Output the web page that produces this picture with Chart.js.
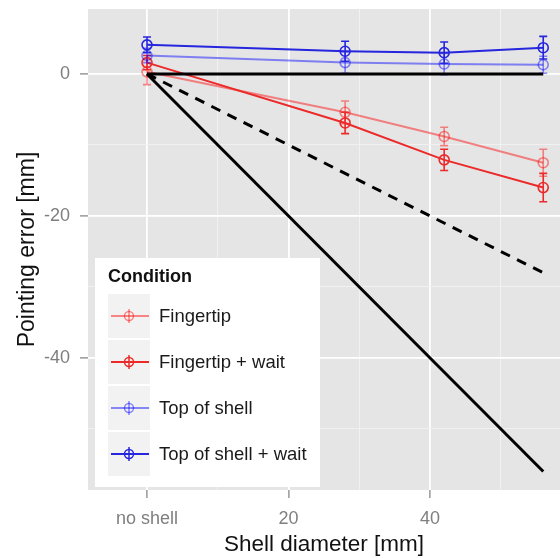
<!DOCTYPE html>
<html>
<head>
<meta charset="utf-8">
<script src="https://cdn.jsdelivr.net/npm/chart.js@4.4.1/dist/chart.umd.min.js"></script>
<style>
    html, body { margin: 0; padding: 0; background: #fff; }
    canvas { display: block; }
</style>
</head>
<body>
<canvas id="pointing-chart" width="560" height="558"></canvas>
<script>
// Data
const diameters = [0, 28, 42, 56];
const xTickValues = [0, 20, 40];
const xTickLabels = ['no shell', '20', '40'];
const xMinorValues = [10, 30, 50];
const yTickValues = [0, -20, -40];
const yTickLabels = ['0', '-20', '-40'];
const yMinorValues = [-10, -30, -50];

const conditions = ['Fingertip', 'Fingertip + wait', 'Top of shell', 'Top of shell + wait'];
const fingertip = [0.3, -5.4, -8.8, -12.5];
const fingertipErr = [1.8, 1.6, 1.3, 1.9];
const fingertipWait = [1.6, -6.9, -12.1, -16.0];
const fingertipWaitErr = [1.0, 1.5, 1.5, 2.0];
const topOfShell = [2.6, 1.6, 1.4, 1.3];
const topOfShellErr = [1.0, 1.5, 1.5, 1.2];
const topOfShellWait = [4.1, 3.2, 3.0, 3.7];
const topOfShellWaitErr = [1.1, 1.4, 1.5, 1.6];

// reference lines: no error, half and full shell radius
const refX = [0, 56];
const refFlat = [0, 0];
const refHalf = [0, -28];
const refFull = [0, -56];

// Styles
const FONT = '"Liberation Sans", Arial, Helvetica, sans-serif';
const conditionColors = ['rgba(255, 0, 0, 0.45)', '#EC2A2A', 'rgba(0, 0, 255, 0.45)', '#2626DE'];
const conditionValues = [fingertip, fingertipWait, topOfShell, topOfShellWait];
const conditionErrors = [fingertipErr, fingertipWaitErr, topOfShellErr, topOfShellWaitErr];

function conditionDataset(i) {
    const color = conditionColors[i];
    return {
        label: conditions[i],
        data: diameters.map((x, j) => ({ x: x, y: conditionValues[i][j] })),
        errors: conditionErrors[i],
        borderColor: color,
        borderWidth: 2,
        pointRadius: 5,
        pointBorderWidth: 1.6,
        pointBorderColor: color,
        pointBackgroundColor: 'rgba(0, 0, 0, 0)',
        tension: 0
    };
}

function refDataset(values, dash) {
    return {
        label: '',
        data: refX.map((x, j) => ({ x: x, y: values[j] })),
        borderColor: '#000',
        borderWidth: 3,
        borderDash: dash,
        pointRadius: 0,
        tension: 0
    };
}

// lower index is drawn on top
const datasets = [
    refDataset(refFlat, []),
    refDataset(refHalf, [10, 8]),
    refDataset(refFull, []),
    conditionDataset(3),
    conditionDataset(2),
    conditionDataset(1),
    conditionDataset(0)
];

const panelPlugin = {
    id: 'panel',
    beforeDraw(chart) {
        const { ctx, chartArea } = chart;
        ctx.save();
        ctx.fillStyle = '#fff';
        ctx.fillRect(0, 0, chart.width, chart.height);
        ctx.fillStyle = '#E5E5E5';
        ctx.fillRect(chartArea.left, chartArea.top, chartArea.right - chartArea.left, chartArea.bottom - chartArea.top);
        ctx.restore();
    }
};

const errorBarPlugin = {
    id: 'errorBars',
    afterDatasetDraw(chart, args) {
        const ds = chart.data.datasets[args.index];
        if (!ds.errors) return;
        const { ctx, chartArea } = chart;
        const yScale = chart.scales.y;
        ctx.save();
        ctx.beginPath();
        ctx.rect(chartArea.left, chartArea.top, chartArea.right - chartArea.left, chartArea.bottom - chartArea.top);
        ctx.clip();
        ctx.strokeStyle = ds.borderColor;
        ctx.lineWidth = 1.6;
        args.meta.data.forEach((pt, j) => {
            const v = ds.data[j].y;
            const top = yScale.getPixelForValue(v + ds.errors[j]);
            const bot = yScale.getPixelForValue(v - ds.errors[j]);
            ctx.beginPath();
            ctx.moveTo(pt.x, top);
            ctx.lineTo(pt.x, bot);
            ctx.moveTo(pt.x - 4, top);
            ctx.lineTo(pt.x + 4, top);
            ctx.moveTo(pt.x - 4, bot);
            ctx.lineTo(pt.x + 4, bot);
            ctx.stroke();
        });
        ctx.restore();
    }
};

const legendPlugin = {
    id: 'conditionLegend',
    afterDraw(chart) {
        const { ctx, chartArea } = chart;
        const boxW = 225, boxH = 229;
        const boxX = chartArea.left + 7;
        const boxY = chartArea.bottom - 3 - boxH;
        ctx.save();
        ctx.fillStyle = '#fff';
        ctx.fillRect(boxX, boxY, boxW, boxH);

        ctx.fillStyle = '#111';
        ctx.font = 'bold 18px ' + FONT;
        ctx.textBaseline = 'middle';
        ctx.textAlign = 'left';
        ctx.fillText('Condition', boxX + 13, boxY + 19);

        const keyX = boxX + 13, keyW = 42, rowH = 46;
        const firstTop = boxY + 35;
        conditions.forEach((name, i) => {
            const top = firstTop + i * rowH;
            const cy = top + rowH / 2;
            const cx = keyX + keyW / 2;
            ctx.fillStyle = '#F2F2F2';
            ctx.fillRect(keyX, top + 1, keyW, rowH - 2);

            ctx.strokeStyle = conditionColors[i];
            ctx.lineWidth = 2;
            ctx.beginPath();
            ctx.moveTo(keyX + 3, cy);
            ctx.lineTo(keyX + keyW - 1, cy);
            ctx.stroke();
            ctx.lineWidth = 1.5;
            ctx.beginPath();
            ctx.arc(cx, cy, 4.5, 0, Math.PI * 2);
            ctx.stroke();
            ctx.beginPath();
            ctx.moveTo(cx, cy - 7);
            ctx.lineTo(cx, cy + 7);
            ctx.stroke();

            ctx.fillStyle = '#1a1a1a';
            ctx.font = '18.5px ' + FONT;
            ctx.fillText(name, boxX + 64, cy + 1);
        });
        ctx.restore();
    }
};

function gridOptions(majors) {
    return {
        color: (c) => (c.tick && majors.includes(c.tick.value)) ? '#FFFFFF' : '#F2F2F2',
        lineWidth: (c) => (c.tick && majors.includes(c.tick.value)) ? 1.8 : 0.9,
        tickColor: (c) => (c.tick && majors.includes(c.tick.value)) ? '#7F7F7F' : 'rgba(0, 0, 0, 0)',
        tickWidth: 1.2,
        tickLength: 8,
        drawTicks: true
    };
}

function noPadding(s) {
    s.paddingTop = 0;
    s.paddingBottom = 0;
    s.paddingLeft = 0;
    s.paddingRight = 0;
}

const ctx = document.getElementById('pointing-chart').getContext('2d');
const pointingChart = new Chart(ctx, {
    type: 'line',
    data: { datasets: datasets },
    plugins: [panelPlugin, errorBarPlugin, legendPlugin],
    options: {
        responsive: false,
        animation: false,
        devicePixelRatio: 1,
        layout: { autoPadding: false, padding: { top: 9, left: 0, right: 0, bottom: 0 } },
        plugins: {
            legend: { display: false },
            tooltip: { enabled: false }
        },
        scales: {
            x: {
                type: 'linear',
                min: -8.34,
                max: 58.37,
                afterBuildTicks: (s) => {
                    s.ticks = xTickValues.concat(xMinorValues).map(v => ({ value: v }));
                },
                afterFit: (s) => { s.height = 68; noPadding(s); },
                border: { display: false },
                grid: gridOptions(xTickValues),
                ticks: {
                    autoSkip: false,
                    maxRotation: 0,
                    padding: 10,
                    color: '#7F7F7F',
                    font: { family: FONT, size: 18 },
                    callback: (v) => {
                        const k = xTickValues.indexOf(v);
                        return k >= 0 ? xTickLabels[k] : '';
                    }
                },
                title: {
                    display: true,
                    text: 'Shell diameter [mm]',
                    color: '#111',
                    font: { family: FONT, size: 22.5 },
                    padding: { top: 0, bottom: 0 }
                }
            },
            y: {
                type: 'linear',
                min: -58.6,
                max: 9.15,
                afterBuildTicks: (s) => {
                    s.ticks = yTickValues.concat(yMinorValues).map(v => ({ value: v }));
                },
                afterFit: (s) => { s.width = 88; noPadding(s); },
                border: { display: false },
                grid: gridOptions(yTickValues),
                ticks: {
                    autoSkip: false,
                    padding: 10,
                    color: '#7F7F7F',
                    font: { family: FONT, size: 18 },
                    callback: (v) => {
                        const k = yTickValues.indexOf(v);
                        return k >= 0 ? yTickLabels[k] : '';
                    }
                },
                title: {
                    display: true,
                    text: 'Pointing error [mm]',
                    color: '#111',
                    font: { family: FONT, size: 23 },
                    padding: { top: 13.5, bottom: 0 }
                }
            }
        }
    }
});
</script>
</body>
</html>
